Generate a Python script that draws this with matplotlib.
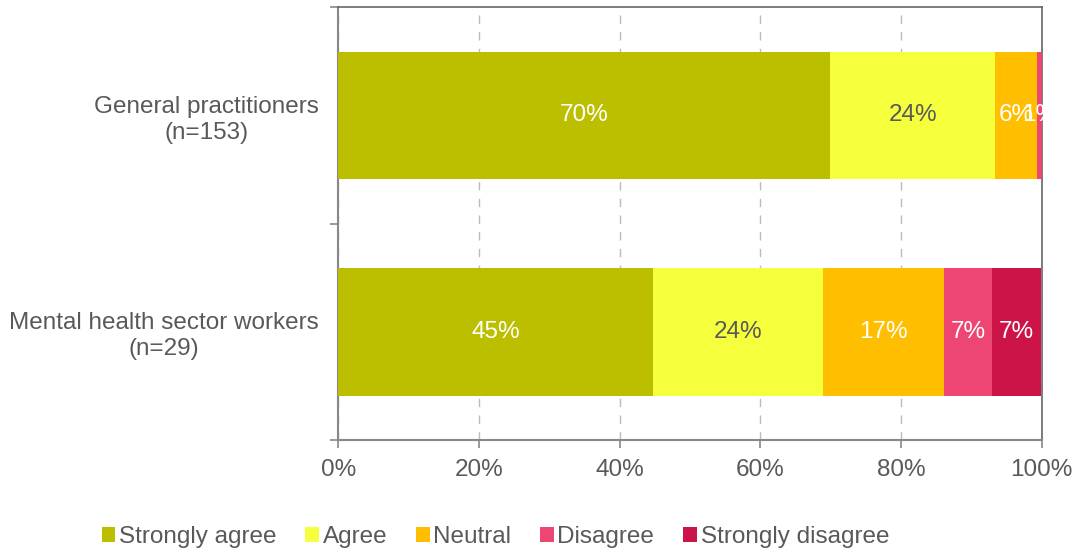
import matplotlib.pyplot as plt
import numpy as np

plt.rcParams['font.family'] = ['Liberation Sans', 'DejaVu Sans']

groups = ['General practitioners\n(n=153)', 'Mental health sector workers\n(n=29)']
responses = ['Strongly agree', 'Agree', 'Neutral', 'Disagree', 'Strongly disagree']
# percent of respondents
gp = [69.9, 23.5, 5.9, 0.7, 0.0]
mh = [44.8, 24.1, 17.2, 6.9, 6.9]
gp_labels = ['70%', '24%', '6%', '1%', '']
mh_labels = ['45%', '24%', '17%', '7%', '7%']

colors = ['#BBBF00', '#F5FF3C', '#FFBE00', '#EE4673', '#CC1449']
label_colors = ['white', '#595959', 'white', 'white', 'white']
txt = '#595959'
fs = 17.5

fig = plt.figure(figsize=(10.84, 5.54), dpi=100)
ax = fig.add_axes([0.312, 0.206, 0.649, 0.781])

data = np.array([gp, mh])
labels = [gp_labels, mh_labels]
y = np.arange(len(groups))
left = np.zeros(len(groups))
for j, resp in enumerate(responses):
    vals = data[:, j]
    ax.barh(y, vals, left=left, height=0.59, color=colors[j], label=resp, zorder=3)
    for i in range(len(groups)):
        if labels[i][j]:
            ax.text(left[i] + vals[i] / 2, y[i], labels[i][j], ha='center', va='center',
                    color=label_colors[j], fontsize=fs, zorder=4)
    left += vals

ax.set_xlim(0, 100)
ax.set_ylim(1.5, -0.5)
ax.set_xticks(np.arange(0, 101, 20))
ax.set_xticklabels([f'{v}%' for v in range(0, 101, 20)], fontsize=fs, color=txt)
ax.set_yticks(y)
ax.set_yticklabels(groups, fontsize=fs, color=txt, ha='right', multialignment='center',
                   linespacing=1.25)
ax.tick_params(axis='y', which='major', length=0, pad=14)
ax.set_yticks([-0.5, 0.5, 1.5], minor=True)
ax.tick_params(axis='y', which='minor', length=6, color='#888888', width=1.2)
ax.tick_params(axis='x', length=6, color='#888888', width=1.2, pad=8)
ax.xaxis.grid(True, linestyle=(0, (6, 6)), color='#BBBBBB', linewidth=1, zorder=0)

for s in ['left', 'bottom']:
    ax.spines[s].set_color('#888888')
    ax.spines[s].set_linewidth(1.5)
for s in ['top', 'right']:
    ax.spines[s].set_color('#666666')
    ax.spines[s].set_linewidth(1.2)

fig.legend(*ax.get_legend_handles_labels(), loc='center', bbox_to_anchor=(0.457, 0.03),
           ncol=5, frameon=False, fontsize=fs, handlelength=0.55, handleheight=0.55,
           handletextpad=0.15, columnspacing=1.2, labelcolor=txt,
           borderaxespad=0, borderpad=0)

fig.savefig('out.png')
